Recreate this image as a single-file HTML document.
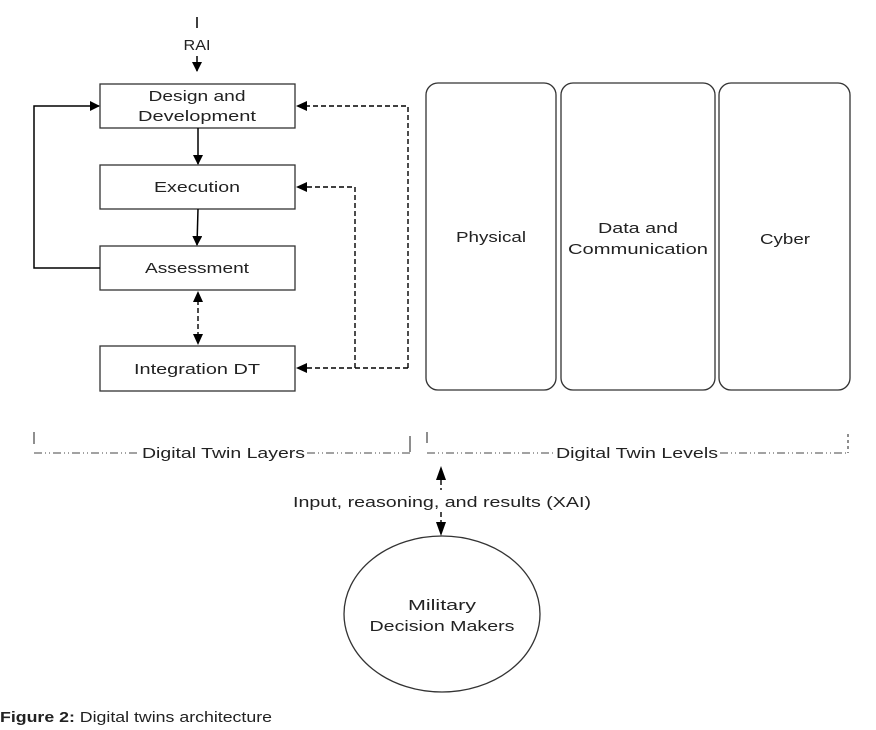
<!DOCTYPE html>
<html><head><meta charset="utf-8"><style>
html,body{margin:0;padding:0;background:#fff;}
svg{display:block;}
text{font-family:"Liberation Sans",sans-serif;fill:#222;}
</style></head><body>
<svg width="876" height="730" viewBox="0 0 876 730" xmlns="http://www.w3.org/2000/svg">
<defs>
<marker id="ah" viewBox="0 0 10 10" refX="9" refY="5" markerWidth="10" markerHeight="10" markerUnits="userSpaceOnUse" orient="auto"><path d="M0,0 L10,5 L0,10 z" fill="#000"/></marker>
</defs>
<g stroke="#333" stroke-width="1.3" fill="#fff">
<rect x="100" y="84" width="195" height="44"/>
<rect x="100" y="165" width="195" height="44"/>
<rect x="100" y="246" width="195" height="44"/>
<rect x="100" y="346" width="195" height="45"/>
<rect x="426" y="83" width="130" height="307" rx="12"/>
<rect x="561" y="83" width="154" height="307" rx="12"/>
<rect x="719" y="83" width="131" height="307" rx="12"/>
<ellipse cx="442" cy="614" rx="98" ry="78"/>
</g>
<g font-size="15" text-anchor="middle" lengthAdjust="spacingAndGlyphs">
<text x="197" y="50" textLength="27" lengthAdjust="spacingAndGlyphs">RAI</text>
<text x="197" y="101" textLength="97" lengthAdjust="spacingAndGlyphs">Design and</text>
<text x="197" y="121" textLength="118" lengthAdjust="spacingAndGlyphs">Development</text>
<text x="197" y="192" textLength="86" lengthAdjust="spacingAndGlyphs">Execution</text>
<text x="197" y="273" textLength="104" lengthAdjust="spacingAndGlyphs">Assessment</text>
<text x="197" y="374" textLength="126" lengthAdjust="spacingAndGlyphs">Integration DT</text>
<text x="491" y="242" textLength="70" lengthAdjust="spacingAndGlyphs">Physical</text>
<text x="638" y="233" textLength="80" lengthAdjust="spacingAndGlyphs">Data and</text>
<text x="638" y="254" textLength="140" lengthAdjust="spacingAndGlyphs">Communication</text>
<text x="785" y="244" textLength="50" lengthAdjust="spacingAndGlyphs">Cyber</text>
<text x="442" y="507" textLength="298" lengthAdjust="spacingAndGlyphs">Input, reasoning, and results (XAI)</text>
<text x="442" y="610" textLength="68" lengthAdjust="spacingAndGlyphs">Military</text>
<text x="442" y="631" textLength="145" lengthAdjust="spacingAndGlyphs">Decision Makers</text>
</g>
<g stroke="#000" stroke-width="1.5" fill="none">
<line x1="197" y1="17" x2="197" y2="28"/>
<line x1="197" y1="56" x2="197" y2="71" marker-end="url(#ah)"/>
<line x1="198" y1="128" x2="198" y2="164" marker-end="url(#ah)"/>
<line x1="198" y1="209" x2="197" y2="245" marker-end="url(#ah)"/>
<polyline points="100,268 34,268 34,106 99,106" marker-end="url(#ah)"/>
</g>
<g stroke="#000" stroke-width="1.4" fill="none" stroke-dasharray="5,3">
<line x1="198" y1="300" x2="198" y2="336"/>
<polyline points="408,368 408,106 300,106"/>
<polyline points="355,368 355,187 300,187"/>
<line x1="408" y1="368" x2="300" y2="368"/>
<line x1="441" y1="480" x2="441" y2="490"/>
<line x1="441" y1="512" x2="441" y2="522"/>
</g>
<g fill="#000">
<path d="M296,106 L307,101 L307,111 z"/>
<path d="M296,187 L307,182 L307,192 z"/>
<path d="M296,368 L307,363 L307,373 z"/>
<path d="M198,291 L193,302 L203,302 z"/>
<path d="M198,345 L193,334 L203,334 z"/>
<path d="M441,466 L436,480 L446,480 z"/>
<path d="M441,536 L436,522 L446,522 z"/>
</g>
<g stroke="#444" stroke-width="1.1" fill="none" stroke-dasharray="8,3,1,3,1,3">
<line x1="34" y1="453" x2="140" y2="453"/>
<line x1="307" y1="453" x2="410" y2="453"/>
<line x1="427" y1="453" x2="553" y2="453"/>
<line x1="720" y1="453" x2="848" y2="453"/>
</g>
<g stroke="#444" stroke-width="1.2">
<line x1="34" y1="432" x2="34" y2="444"/>
<line x1="410" y1="436" x2="410" y2="452"/>
<line x1="427" y1="432" x2="427" y2="443"/>
<line x1="848" y1="434" x2="848" y2="453" stroke-dasharray="3,3"/>
</g>
<g font-size="15">
<text x="142" y="458" textLength="163" lengthAdjust="spacingAndGlyphs">Digital Twin Layers</text>
<text x="556" y="458" textLength="162" lengthAdjust="spacingAndGlyphs">Digital Twin Levels</text>
</g>
<text x="0" y="722" font-size="15" fill="#000" textLength="272" lengthAdjust="spacingAndGlyphs"><tspan font-weight="bold">Figure 2:</tspan> Digital twins architecture</text>
</svg>
</body></html>
